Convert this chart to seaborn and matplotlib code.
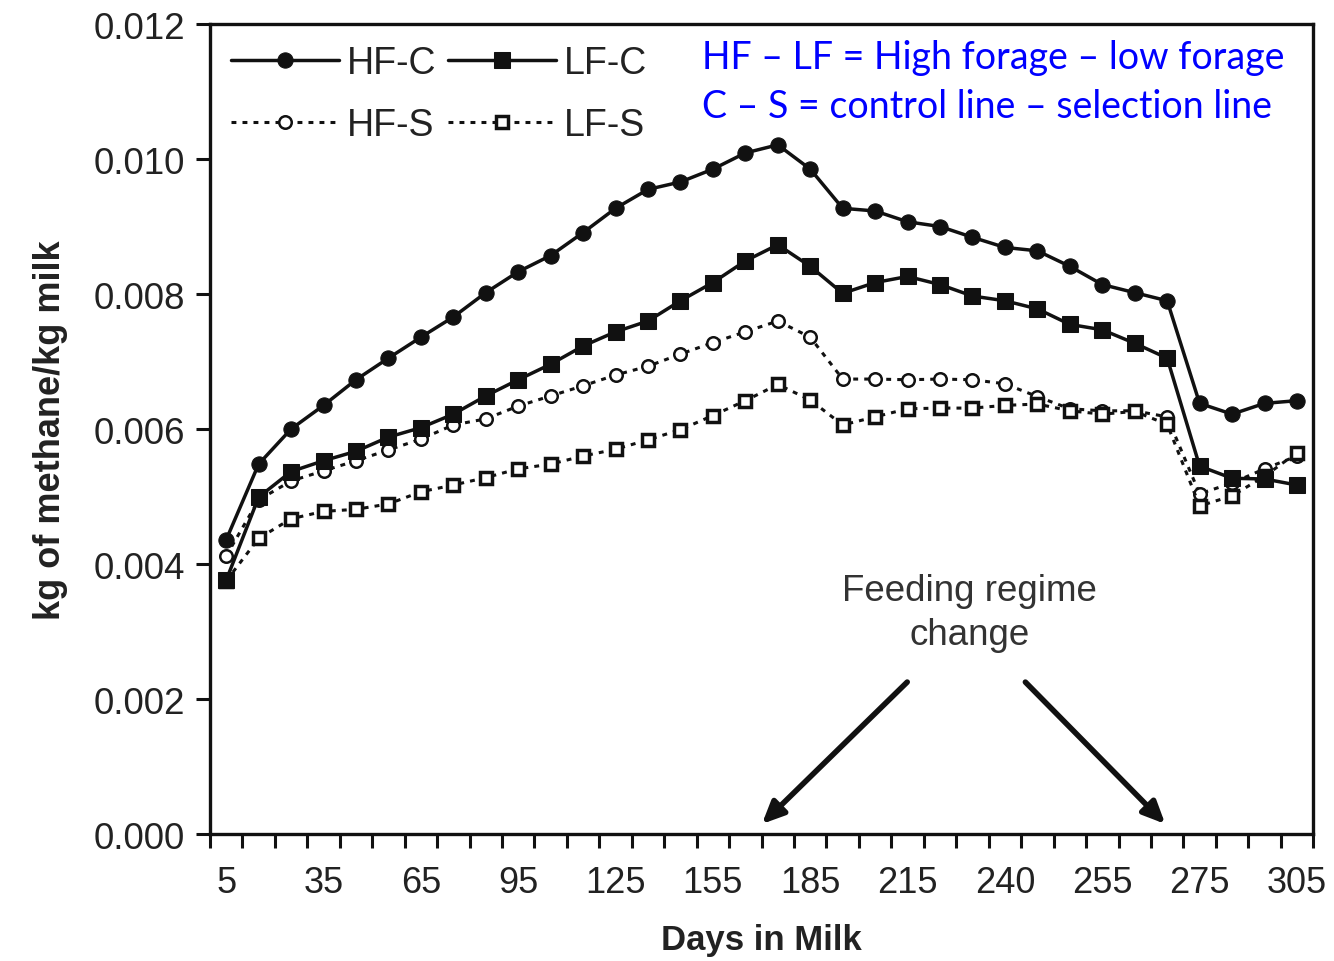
import numpy as np
import pandas as pd
import matplotlib
matplotlib.use("Agg")
import matplotlib.pyplot as plt
import seaborn as sns

# ---- data ----
tick_labels = ['5', '35', '65', '95', '125', '155', '185', '215', '240', '255', '275', '305']
n_points = 34
hf_c = [0.00436, 0.00548, 0.00600, 0.00635, 0.00673, 0.00705, 0.00736, 0.00766, 0.00802, 0.00833,
        0.00857, 0.00891, 0.00927, 0.00955, 0.00966, 0.00985, 0.01009, 0.01021, 0.00985, 0.00927,
        0.00923, 0.00907, 0.00900, 0.00884, 0.00869, 0.00864, 0.00841, 0.00814, 0.00802, 0.00790,
        0.00638, 0.00622, 0.00638, 0.00642]
lf_c = [0.00376, 0.00499, 0.00537, 0.00553, 0.00567, 0.00588, 0.00602, 0.00622, 0.00649, 0.00673,
        0.00696, 0.00723, 0.00744, 0.00760, 0.00790, 0.00817, 0.00849, 0.00873, 0.00841, 0.00801,
        0.00817, 0.00826, 0.00814, 0.00797, 0.00790, 0.00778, 0.00755, 0.00747, 0.00727, 0.00705,
        0.00545, 0.00527, 0.00526, 0.00517]
hf_s = [0.00412, 0.00495, 0.00523, 0.00538, 0.00553, 0.00569, 0.00585, 0.00606, 0.00615, 0.00634,
        0.00649, 0.00664, 0.00680, 0.00693, 0.00711, 0.00728, 0.00744, 0.00760, 0.00736, 0.00674,
        0.00674, 0.00673, 0.00674, 0.00673, 0.00667, 0.00648, 0.00630, 0.00627, 0.00627, 0.00618,
        0.00504, 0.00520, 0.00541, 0.00560]
lf_s = [0.00375, 0.00438, 0.00467, 0.00478, 0.00481, 0.00489, 0.00507, 0.00517, 0.00528, 0.00541,
        0.00548, 0.00560, 0.00570, 0.00584, 0.00599, 0.00620, 0.00642, 0.00666, 0.00643, 0.00606,
        0.00618, 0.00630, 0.00631, 0.00631, 0.00635, 0.00637, 0.00627, 0.00622, 0.00626, 0.00607,
        0.00486, 0.00501, 0.00530, 0.00565]
series_names = ['HF-C', 'LF-C', 'HF-S', 'LF-S']

idx = np.arange(n_points)
df = pd.DataFrame({'idx': idx, 'HF-C': hf_c, 'LF-C': lf_c, 'HF-S': hf_s, 'LF-S': lf_s})

sns.set_theme(style="white")
plt.rcParams['font.family'] = ['Liberation Sans', 'DejaVu Sans']

fig = plt.figure(figsize=(13.34, 9.62), dpi=100)
ax = fig.add_axes([0.1574, 0.132, 0.827, 0.842])

dots = (0, (1.6, 2.0))
styles = {
    'HF-C': dict(marker='o', markersize=11, markerfacecolor='#111111', markeredgecolor='#111111',
                 linestyle='-', linewidth=2.5),
    'LF-C': dict(marker='s', markersize=12, markerfacecolor='#111111', markeredgecolor='#111111',
                 linestyle='-', linewidth=2.5),
    'HF-S': dict(marker='o', markersize=9, markerfacecolor='white', markeredgecolor='#111111',
                 markeredgewidth=1.8, linestyle=dots, linewidth=2.2),
    'LF-S': dict(marker='s', markersize=9, markerfacecolor='white', markeredgecolor='#111111',
                 markeredgewidth=2.5, linestyle=dots, linewidth=2.2),
}
order = ['HF-S', 'LF-S', 'LF-C', 'HF-C']
for name in order:
    sns.lineplot(data=df, x='idx', y=name, ax=ax, color='#111111', label=name, **styles[name])

ax.set_xlim(-0.5, n_points - 0.5)
ax.set_ylim(0, 0.012)
ax.set_yticks(np.arange(0, 0.0121, 0.002))
ax.yaxis.set_major_formatter(matplotlib.ticker.FormatStrFormatter('%.3f'))
ax.set_xticks(idx[::3])
ax.set_xticklabels(tick_labels)
ax.set_xticks(np.arange(-0.5, n_points, 1.0), minor=True)
ax.tick_params(axis='x', which='major', length=0, pad=22, labelsize=26, labelcolor='#222222')
ax.tick_params(axis='x', which='minor', length=10, width=2.2, direction='out', color='#111111', bottom=True)
ax.tick_params(axis='y', which='major', length=10, width=2.2, direction='out', color='#111111',
               left=True, pad=8, labelsize=26.5, labelcolor='#222222')
for s in ax.spines.values():
    s.set_linewidth(2.4)
    s.set_color('#111111')

ax.set_xlabel('Days in Milk', fontsize=25, fontweight='bold', color='#222222', labelpad=17)
ax.set_ylabel('kg of methane/kg milk', fontsize=26, fontweight='bold', color='#222222', labelpad=18)

h, l = ax.get_legend_handles_labels()
hd = dict(zip(l, h))
leg = ax.legend([hd['HF-C'], hd['HF-S'], hd['LF-C'], hd['LF-S']], ['HF-C', 'HF-S', 'LF-C', 'LF-S'],
                ncol=2, loc='upper left', frameon=False, fontsize=27, handlelength=2.9,
                handletextpad=0.2, columnspacing=0.3, labelspacing=0.7,
                bbox_to_anchor=(0.0, 1.0), borderaxespad=0.15, labelcolor='#222222')

fig.text(0.526, 0.940, 'HF \u2013 LF = High forage \u2013 low forage', color='#0000ff',
         fontsize=27, family=['Lato', 'DejaVu Sans'], va='center', ha='left')
fig.text(0.526, 0.889, 'C \u2013 S = control line \u2013 selection line', color='#0000ff',
         fontsize=27, family=['Lato', 'DejaVu Sans'], va='center', ha='left')

ax.text(22.9, 0.00328, 'Feeding regime\nchange', ha='center', va='center', fontsize=26.5,
        color='#333333', linespacing=1.35)
for x0, x1 in [(21.05, 16.45), (24.57, 29.0)]:
    ax.annotate('', xy=(x1, 0.00012), xytext=(x0, 0.00228),
                arrowprops=dict(arrowstyle='-|>,head_length=1.1,head_width=0.5', lw=4, color='#111111'))

fig.savefig('out.png', dpi=100)
